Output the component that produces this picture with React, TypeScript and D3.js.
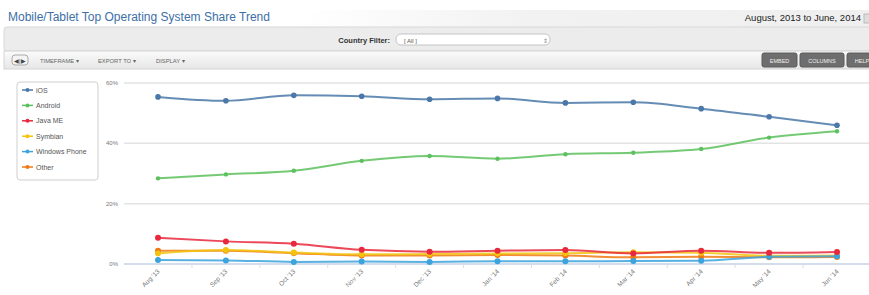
import React, { useEffect, useRef } from 'react'
import * as d3 from 'd3'

const months = ["Aug '13", "Sep '13", "Oct '13", "Nov '13", "Dec '13", "Jan '14", "Feb '14", "Mar '14", "Apr '14", "May '14", "Jun '14"]

const iosShare = [55.4, 54.1, 55.9, 55.6, 54.6, 54.9, 53.4, 53.6, 51.5, 48.8, 46.0]
const androidShare = [28.4, 29.7, 30.9, 34.2, 35.8, 34.9, 36.4, 36.9, 38.1, 41.9, 44.0]
const javaMeShare = [8.7, 7.5, 6.7, 4.7, 4.1, 4.4, 4.6, 3.5, 4.4, 3.7, 4.0]
const symbianShare = [3.5, 4.6, 3.8, 3.2, 3.3, 3.5, 3.6, 3.9, 3.7, 2.7, 2.8]
const windowsPhoneShare = [1.3, 1.2, 0.7, 0.8, 0.7, 0.9, 0.9, 1.0, 1.1, 2.4, 2.6]
const otherShare = [4.4, 4.4, 3.6, 2.8, 2.8, 3.0, 2.8, 2.2, 2.4, 2.2, 2.3]

const seriesNames = ['iOS', 'Android', 'Java ME', 'Symbian', 'Windows Phone', 'Other']
const seriesColors = ['#4a78a8', '#5cc15c', '#e8283c', '#f2c40f', '#3ca3dc', '#f07a12']
const yTicks = [0, 20, 40, 60]

const App = () => {
    const svgRef = useRef<SVGSVGElement | null>(null)

    useEffect(() => {
        const width = 869
        const height = 295
        const font = 'Liberation Sans, Arial, sans-serif'
        const svg = d3.select(svgRef.current)
        svg.selectAll('*').remove()
        svg.attr('width', width).attr('height', height)

        const values = [iosShare, androidShare, javaMeShare, symbianShare, windowsPhoneShare, otherShare]

        // header
        svg.append('rect').attr('x', 0).attr('y', 0).attr('width', width).attr('height', height).attr('fill', '#fff')
        const defs = svg.append('defs')
        const grad = defs.append('linearGradient').attr('id', 'tb').attr('x1', 0).attr('y1', 0).attr('x2', 0).attr('y2', 1)
        grad.append('stop').attr('offset', '0%').attr('stop-color', '#fbfbfb')
        grad.append('stop').attr('offset', '100%').attr('stop-color', '#e6e6e6')
        const hg = defs.append('linearGradient').attr('id', 'hg').attr('x1', 0).attr('y1', 0).attr('x2', 1).attr('y2', 0)
        hg.append('stop').attr('offset', '0%').attr('stop-color', '#ffffff')
        hg.append('stop').attr('offset', '40%').attr('stop-color', '#f2f2f2')
        hg.append('stop').attr('offset', '100%').attr('stop-color', '#efefef')

        svg.append('rect').attr('x', 300).attr('y', 10).attr('width', 569).attr('height', 17).attr('fill', 'url(#hg)')
        svg.append('text').attr('x', 8).attr('y', 21).attr('font-family', font).attr('font-size', 12)
            .attr('fill', '#3d6fa6').text('Mobile/Tablet Top Operating System Share Trend')
        svg.append('text').attr('x', 861).attr('y', 21).attr('text-anchor', 'end').attr('font-family', font)
            .attr('font-size', 9.5).attr('fill', '#222').text('August, 2013 to June, 2014')
        svg.append('rect').attr('x', 864).attr('y', 14).attr('width', 6).attr('height', 9).attr('fill', '#ddd').attr('stroke', '#bbb')

        svg.append('rect').attr('x', 4).attr('y', 27).attr('width', 870).attr('height', 24).attr('rx', 3)
            .attr('fill', '#ececec').attr('stroke', '#d8d8d8')
        svg.append('text').attr('x', 390).attr('y', 43).attr('text-anchor', 'end').attr('font-family', font)
            .attr('font-size', 7.5).attr('font-weight', 'bold').attr('fill', '#333').text('Country Filter:')
        svg.append('rect').attr('x', 396).attr('y', 34).attr('width', 154).attr('height', 11).attr('rx', 5)
            .attr('fill', '#fff').attr('stroke', '#c4c4c4')
        svg.append('text').attr('x', 404).attr('y', 42.5).attr('font-family', font).attr('font-size', 6)
            .attr('fill', '#555').text('[ All ]')
        svg.append('text').attr('x', 543).attr('y', 42.5).attr('font-family', font).attr('font-size', 6)
            .attr('fill', '#888').text('⇕')

        svg.append('rect').attr('x', 4).attr('y', 51).attr('width', 870).attr('height', 18).attr('fill', 'url(#tb)')
            .attr('stroke', '#d4d4d4')
        svg.append('rect').attr('x', 12).attr('y', 55).attr('width', 16).attr('height', 10).attr('rx', 3)
            .attr('fill', '#f4f4f4').attr('stroke', '#aaa')
        svg.append('text').attr('x', 14).attr('y', 63).attr('font-family', font).attr('font-size', 6).attr('fill', '#444').text('◀|▶')
        const menus = [['TIMEFRAME ▾', 40], ['EXPORT TO ▾', 98], ['DISPLAY ▾', 156]]
        menus.forEach(([t, x]) => {
            svg.append('text').attr('x', x as number).attr('y', 63).attr('font-family', font).attr('font-size', 5.8)
                .attr('fill', '#666').text(t as string)
        })
        const buttons = [['EMBED', 762, 35], ['COLUMNS', 800, 44], ['HELP', 847, 30]]
        buttons.forEach(([t, x, w]) => {
            svg.append('rect').attr('x', x as number).attr('y', 53).attr('width', w as number).attr('height', 14).attr('rx', 2)
                .attr('fill', '#6e6e6e').attr('stroke', '#5a5a5a')
            svg.append('text').attr('x', (x as number) + (w as number) / 2).attr('y', 62.5).attr('text-anchor', 'middle')
                .attr('font-family', font).attr('font-size', 5.5).attr('fill', '#eee').text(t as string)
        })

        // chart
        const xScale = d3.scalePoint().domain(months).range([158, 837])
        const yScale = d3.scaleLinear().domain([0, 60]).range([264, 83])

        svg.append('g').selectAll('line').data(yTicks).enter().append('line')
            .attr('x1', 124).attr('x2', width).attr('y1', d => yScale(d)).attr('y2', d => yScale(d))
            .attr('stroke', d => d === 0 ? '#c5d2e4' : '#e3e3e3').attr('stroke-width', 1.5)
        svg.append('g').selectAll('text').data(yTicks).enter().append('text')
            .attr('x', 118).attr('y', d => yScale(d) + 2).attr('text-anchor', 'end').attr('font-family', font)
            .attr('font-size', 6).attr('fill', '#777').text(d => `${d}%`)

        // minor ticks between months
        const step = xScale.step()
        svg.append('g').selectAll('line').data(months.slice(0, -1)).enter().append('line')
            .attr('x1', d => (xScale(d) as number) + step / 2).attr('x2', d => (xScale(d) as number) + step / 2)
            .attr('y1', 265).attr('y2', 268).attr('stroke', '#d8dee8')

        svg.append('g').selectAll('text').data(months).enter().append('text')
            .attr('transform', d => `translate(${(xScale(d) as number) + 2},${272}) rotate(-45)`)
            .attr('text-anchor', 'end').attr('font-family', font).attr('font-size', 6.5).attr('fill', '#777').text(d => d)

        const line = d3.line<number>()
            .x((_, i) => xScale(months[i]) as number)
            .y(d => yScale(d))
            .curve(d3.curveMonotoneX)

        const drawOrder = [5, 3, 4, 2, 1, 0]
        drawOrder.forEach(k => {
            const g = svg.append('g')
            g.append('path').attr('d', line(values[k])).attr('fill', 'none').attr('stroke', seriesColors[k])
                .attr('stroke-width', 2).attr('stroke-opacity', 0.85)
            g.selectAll('circle').data(values[k]).enter().append('circle')
                .attr('cx', (_, i) => xScale(months[i]) as number).attr('cy', d => yScale(d))
                .attr('r', k === 1 ? 2.2 : k >= 2 ? 3 : 2.8).attr('fill', seriesColors[k])
        })

        // legend
        svg.append('rect').attr('x', 17).attr('y', 82).attr('width', 81).attr('height', 98).attr('rx', 3)
            .attr('fill', '#fff').attr('stroke', '#cfcfcf')
        const leg = svg.append('g').selectAll('g').data(seriesNames).enter().append('g')
            .attr('transform', (_, i) => `translate(22,${90 + i * 15.4})`)
        leg.append('line').attr('x1', 0).attr('x2', 11).attr('stroke', (_, i) => seriesColors[i]).attr('stroke-width', 1.5)
        leg.append('circle').attr('cx', 5.5).attr('r', 2).attr('fill', (_, i) => seriesColors[i])
        leg.append('text').attr('x', 14).attr('y', 2.5).attr('font-family', font).attr('font-size', 7)
            .attr('fill', '#555').text(d => d)
    }, [])

    return (
        <div>
            <svg ref={svgRef} style={{ position: 'absolute', left: 0, top: 0 }}></svg>
        </div>
    )
}

export default App
